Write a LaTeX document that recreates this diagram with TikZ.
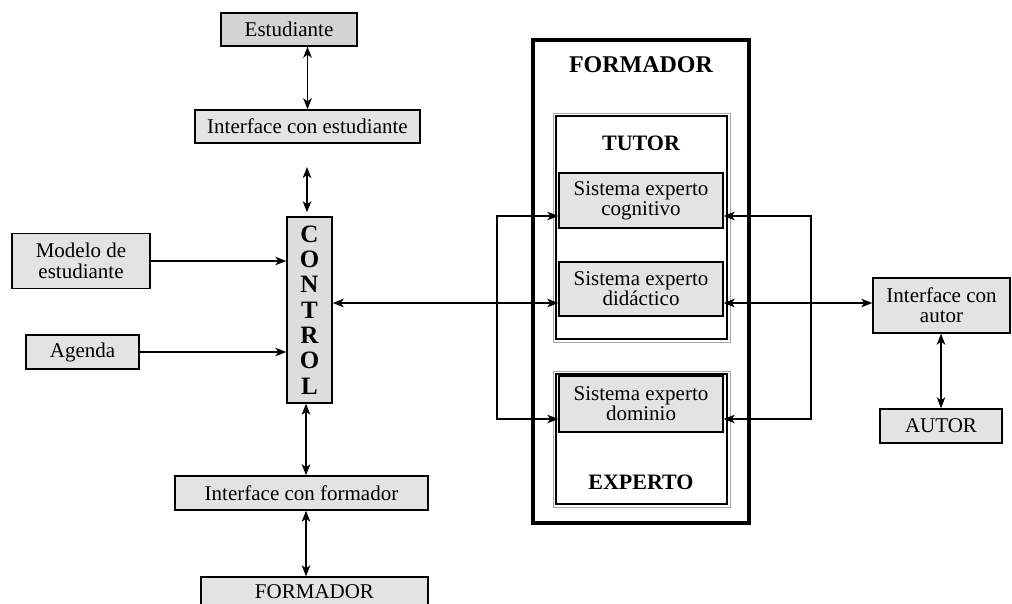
\documentclass[tikz,border=0pt]{standalone}
\usepackage{fontspec}
\setmainfont{Liberation Serif}
\usetikzlibrary{arrows.meta,calc}
\begin{document}
\begin{tikzpicture}[x=1pt,y=-1pt,
  box/.style={draw=black,line width=1.4pt,fill=gray!22,inner sep=0pt,align=center,
    font=\fontsize{21}{20}\selectfont},
  tip/.tip={Stealth[length=11pt,width=8.5pt,inset=3pt]},
  conn/.style={line width=1.4pt,tip-tip},
  into/.style={line width=1.4pt,-tip},
  heading/.style={font=\fontsize{22}{22}\selectfont\bfseries,inner sep=0pt},
  frame/.style={draw=gray!70,line width=0.8pt},
  frameinner/.style={draw=black,line width=1.5pt}]
\clip (0,0) rectangle (1012,604);
\fill[white] (0,0) rectangle (1012,604);

% left column: student side
\node[box,fill=gray!34,minimum width=136pt,minimum height=33pt] (est) at (289,29.5) {Estudiante};
\node[box,minimum width=225pt,minimum height=33pt] (iest) at (307.5,126.5) {Interface con estudiante};
\node[box,minimum width=45pt,minimum height=186pt,fill=gray!27,
  font=\fontsize{25}{25.3}\selectfont\bfseries] (ctrl) at (309.5,310) {C\\O\\N\\T\\R\\O\\L};
\node[box,minimum width=138pt,minimum height=55pt,font=\fontsize{21}{21}\selectfont] (modelo) at (81,261) {Modelo de\\estudiante};
\node[box,minimum width=113pt,minimum height=34pt] (agenda) at (82.5,352) {Agenda};
\node[box,minimum width=253pt,minimum height=34pt] (iform) at (301.5,493) {Interface con formador};
\node[box,minimum width=227pt,minimum height=30pt] (formb) at (314.5,592) {FORMADOR};

% central FORMADOR block
\draw[line width=3.2pt] (533,40) rectangle (749,523);
\node[heading,font=\fontsize{24}{24}\selectfont\bfseries] (tform) at (641,65) {FORMADOR};
\draw[frame] (553,113) rectangle (730,342);
\draw[frameinner] (556,116) rectangle (727,339);
\draw[frame] (553,371) rectangle (730,507);
\draw[frameinner] (556,374) rectangle (727,504);
\node[heading] (ttutor) at (641,143) {TUTOR};
\node[heading] (texp) at (641,482) {EXPERTO};
\node[box,minimum width=164pt,minimum height=55pt] (cog) at (641,200.5) {Sistema experto\\cognitivo};
\node[box,minimum width=164pt,minimum height=54pt] (did) at (641,289) {Sistema experto\\didáctico};
\node[box,minimum width=164pt,minimum height=56pt] (dom) at (641,404) {Sistema experto\\dominio};

% author side
\node[box,minimum width=137pt,minimum height=55pt] (iaut) at (941.5,305.5) {Interface con\\autor};
\node[box,minimum width=122pt,minimum height=34pt] (autor) at (941,426) {AUTOR};

% connection points on the expert systems
\coordinate (cogL) at ($(cog.west)+(0,15.5)$);
\coordinate (didL) at ($(did.west)+(0,14)$);
\coordinate (domL) at ($(dom.west)+(0,15)$);
\coordinate (cogR) at ($(cog.east)+(0,15.5)$);
\coordinate (didR) at ($(did.east)+(0,14)$);
\coordinate (domR) at ($(dom.east)+(0,15)$);
\coordinate (lx) at (497,0);
\coordinate (rx) at (811,0);
\coordinate (cin) at (307,167);
\coordinate (vx) at (306,0);

% connectors
\draw[conn] (iest.north) -- (iest.north |- est.south);
\draw[conn] (cin) -- ($(cin |- ctrl.north)+(0,-4)$);
\draw[into] (modelo.east) -- (modelo.east -| ctrl.west);
\draw[into] (agenda.east) -- (agenda.east -| ctrl.west);
\draw[conn] (didL -| ctrl.east) -- (didL);
\draw[conn] (cogL) -- (cogL -| lx) -- (domL -| lx) -- (domL);
\draw[conn] (cogR) -- (cogR -| rx) -- (domR -| rx) -- (domR);
\draw[conn] (didR) -- (didR -| iaut.west);
\draw[conn] (iaut.south -| autor.north) -- (autor.north);
\draw[conn] (vx |- ctrl.south) -- (vx |- iform.north);
\draw[conn] (vx |- iform.south) -- (vx |- formb.north);
\end{tikzpicture}
\end{document}
